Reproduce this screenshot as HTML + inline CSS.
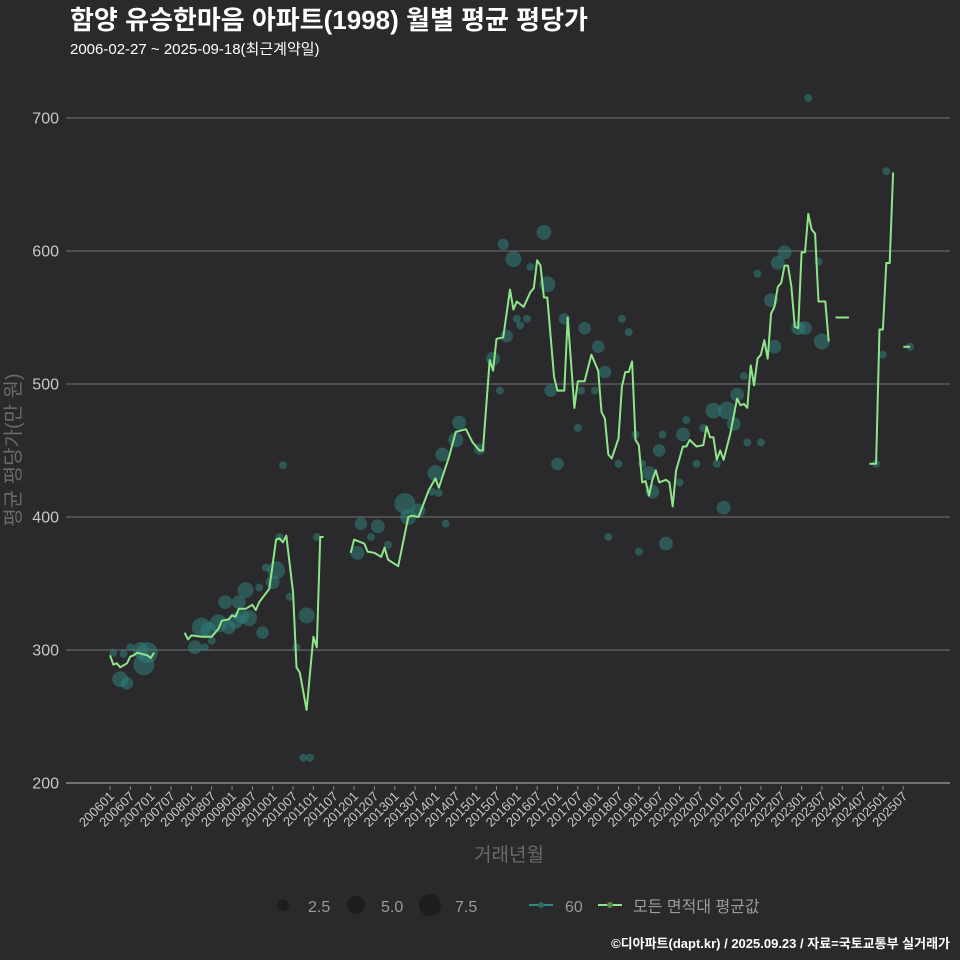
<!DOCTYPE html>
<html><head><meta charset="utf-8">
<style>
html,body{margin:0;padding:0;background:#2a292b;}
svg{display:block;font-family:"Liberation Sans","Noto Sans CJK KR",sans-serif;}
</style></head>
<body>
<svg id="chart" width="960" height="960" viewBox="0 0 960 960" xmlns="http://www.w3.org/2000/svg">
<rect x="0" y="0" width="960" height="960" fill="#2a292b"/>
<text x="70" y="29" font-size="26" font-weight="bold" fill="#ffffff">함양 유승한마음 아파트(1998) 월별 평균 평당가</text>
<text x="70" y="54" font-size="15" fill="#ffffff">2006-02-27 ~ 2025-09-18(최근계약일)</text>
<g id="grid"></g>
<g id="yaxis"></g>
<g id="xaxis"></g>
<g id="bubbles"></g>
<g id="lines"></g>
<text x="0" y="0" transform="translate(20,450) rotate(-90)" text-anchor="middle" font-size="20" fill="#6a6a6a">평균 평당가(만 원)</text>
<text x="509" y="861" text-anchor="middle" font-size="19" fill="#6a6a6a">거래년월</text>
<g>
<circle cx="283" cy="905" r="6" fill="#1d1d1e"/>
<text x="308" y="912" font-size="16" fill="#9a9a9a">2.5</text>
<circle cx="356" cy="905" r="9" fill="#1d1d1e"/>
<text x="381" y="912" font-size="16" fill="#9a9a9a">5.0</text>
<circle cx="430" cy="905" r="11" fill="#1d1d1e"/>
<text x="455" y="912" font-size="16" fill="#9a9a9a">7.5</text>
<line x1="529" y1="905" x2="553" y2="905" stroke="#2c8a86" stroke-width="2"/>
<circle cx="541" cy="905" r="3" fill="#2e6a5a"/>
<text x="565" y="912" font-size="16" fill="#9a9a9a">60</text>
<line x1="598" y1="905" x2="622" y2="905" stroke="#8ee58a" stroke-width="2"/>
<circle cx="610" cy="905" r="3" fill="#5a8a4a"/>
<text x="633" y="912" font-size="16" fill="#9a9a9a">모든 면적대 평균값</text>
</g>
<text x="950" y="948" text-anchor="end" font-size="13" font-weight="bold" fill="#ffffff">©디아파트(dapt.kr) / 2025.09.23 / 자료=국토교통부 실거래가</text>
</svg>
<script>
// ---- data ----
const yTicks = [200, 300, 400, 500, 600, 700];
const xTickLabels = ["200601","200607","200701","200707","200801","200807","200901","200907","201001","201007","201101","201107","201201","201207","201301","201307","201401","201407","201501","201507","201601","201607","201701","201707","201801","201807","201901","201907","202001","202007","202101","202107","202201","202207","202301","202307","202401","202407","202501","202507"];
// line: month index (months since 2006-01), null month = break
const lineMonths = [0,1,2,3,5,6,7,8,11,12,13,null,
22,23,24,27,29,30,32,33,35,36,37,38,39,40,42,43,44,47,49,50,51,52,54,55,56,58,60,61,62,63,null,
71,72,74,75,76,78,80,81,82,85,88,89,91,94,96,97,100,102,105,107,109,110,112,113,114,116,118,119,120,122,124,125,126,127,128,129,131,132,134,135,137,138,140,142,144,145,146,147,148,150,151,152,153,154,155,156,157,158,159,160,161,162,164,165,166,167,169,170,171,173,175,176,177,178,179,180,181,183,185,186,187,188,189,190,191,192,193,194,195,196,197,198,199,200,201,202,203,204,205,206,207,208,209,211,212,null,
214,218,null,
224,226,227,228,229,230,231,null,
234,236];
const lineValues = [296,289,290,287,290,295,296,298,296,294,298,null,
313,308,311,310,310,310,316,322,323,326,325,331,331,331,334,330,336,346,383,384,381,386,343,287,283,255,310,302,385,385,null,
373,383,381,380,374,373,370,377,368,363,400,401,400,420,429,422,445,464,466,456,450,450,518,510,534,535,571,556,562,558,569,572,593,589,565,565,505,495,495,550,482,502,502,522,510,479,474,447,444,459,498,509,509,517,458,454,426,427,416,428,435,426,428,426,408,435,453,453,458,453,454,468,460,460,443,450,443,463,489,484,485,482,514,499,519,522,533,519,553,558,573,576,589,589,573,543,542,599,599,628,616,613,562,562,532,null,
550,550,null,
440,440,541,541,591,591,659,null,
528,528];
// bubbles (area 60)
const bubbleMonths = [1,3,5,4,6,10,11,9,25,27,28,30,29,32,34,35,38,40,37,41,39,44,45,46,49,48,50,53,58,55,57,59,61,51,
128,116,119,124,129,120,121,123,117,113,115,103,102,98,96,109,87,88,91,99,95,97,74,79,77,82,73,
134,140,144,146,130,139,143,138,132,151,153,155,150,147,156,157,159,160,162,
206,229,199,197,191,209,195,203,205,210,196,228,236,226,187,185,178,182,184,170,169,175,163,188,192,173,179,168,181,164];
const bubbleValues = [298,278,275,297,302,289,298,300,302,317,302,307,315,320,336,317,336,345,322,324,325,347,313,362,360,351,385,340,326,302,219,219,385,439,
614,605,594,588,575,549,544,549,536,519,495,471,458,447,433,451,410,400,405,395,419,418,395,393,385,379,373,
549,542,528,509,495,495,495,467,440,549,539,462,440,385,374,440,433,419,450,
715,660,599,591,583,592,563,542,542,532,528,522,528,440,506,492,480,480,470,473,462,467,462,456,456,440,440,426,407,380];
const bubbleSizes = [1,4,2.5,1,1,7,7,4,3,6,1,1,4,5,3,3,3,4,4,4,3,1,2.5,1,5,3,1,1,4,1,1,1,1,1,
3.5,2,4,1,4,1,1,1,2.5,3,1,3,3.5,3,4,2,7,4,3,1,1,1,2.5,3,1,1,3,
2,2.5,2.5,2.5,2.5,1,1,1,2.5,1,1,1,1,1,1,1,3,3,2.5,
1,1,3,3,1,1,3,3,3,4,3,1,1,1,1,3,4,5,3,1,3,1,1,1,1,1,1,1,3,3];

// ---- scales ----
const X0 = 110, PXM = 3.39;
function xScale(m){ return X0 + m * PXM; }
function yScale(v){ return 783 - (v - 200) * 1.33; }
function rScale(s){ return 4 * Math.sqrt(s); }
function labelToMonth(l){ return (parseInt(l.slice(0,4)) - 2006) * 12 + parseInt(l.slice(4)) - 1; }

const NS = "http://www.w3.org/2000/svg";
function mk(tag, attrs, parent){ const e = document.createElementNS(NS, tag); for (const k in attrs) e.setAttribute(k, attrs[k]); parent.appendChild(e); return e; }

const grid = document.getElementById('grid');
const yaxis = document.getElementById('yaxis');
yTicks.forEach(v => {
  const y = yScale(v);
  const ln = mk('line', {x1:66, x2:950, y1:y, y2:y, stroke: v === 200 ? '#8a8a8a' : '#737373', 'stroke-width': v === 200 ? 1.5 : 1}, grid);
  
  
  const t = mk('text', {x:59, y:y + 5.5, 'text-anchor':'end', 'font-size':16, fill:'#c8c8c8'}, yaxis);
  t.textContent = v;
  
  
});

const xaxis = document.getElementById('xaxis');
xTickLabels.forEach(l => {
  const x = xScale(labelToMonth(l));
  const tk = mk('line', {x1:x, x2:x, y1:786, y2:790, stroke:'#8a8a8a', 'stroke-width':1}, xaxis);
  
  
  const t = mk('text', {x:0, y:0, transform:'translate(' + (x + 5) + ',797) rotate(-45)', 'text-anchor':'end', 'font-size':13, fill:'#c8c8c8'}, xaxis);
  t.textContent = l;
  
  
});

const bub = document.getElementById('bubbles');
bubbleMonths.forEach((m, i) => {
  const c = mk('circle', {cx:xScale(m), cy:yScale(bubbleValues[i]), r:rScale(bubbleSizes[i]), fill:'#2f7f7a', 'fill-opacity':0.55}, bub);
  
  
});

const lines = document.getElementById('lines');
let seg = [];
function flush(){
  if (seg.length) {
    const p = mk('polyline', {points: seg.join(' '), fill:'none', stroke:'#8ee58a', 'stroke-width':2, 'stroke-linejoin':'round'}, lines);
    
    
  }
  seg = [];
}
lineMonths.forEach((m, i) => {
  if (m === null || lineValues[i] === null) { flush(); return; }
  seg.push(xScale(m).toFixed(1) + ',' + yScale(lineValues[i]).toFixed(1));
});
flush();
</script>
</body></html>
